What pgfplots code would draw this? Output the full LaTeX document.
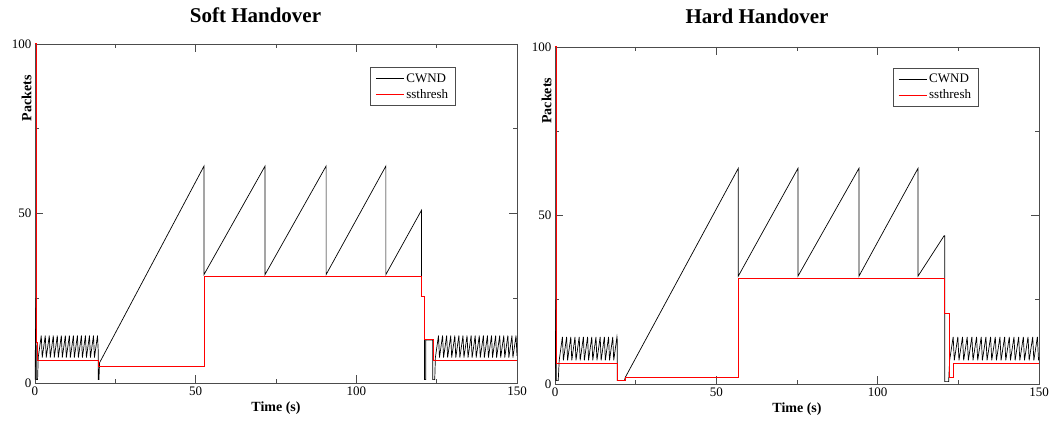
\documentclass[border=0pt]{standalone}
\usepackage{fontspec}
\setmainfont{Liberation Serif}
\usepackage{pgfplots}
\pgfplotsset{compat=1.18}
\pgfplotsset{
  hostyle/.style={
    scale only axis,
    xmin=0, xmax=150, ymin=0, ymax=100,
    xtick={0,50,100,150}, ytick={0,50,100},
    minor xtick={25,75,125}, minor ytick={25,75},
    tick align=inside, xtick pos=both, ytick pos=both,
    major tick length=8pt, minor tick length=4pt,
    axis line style={black!70, line width=0.7pt},
    every tick/.style={black!70, line width=0.7pt},
    tick label style={font=\fontsize{13}{13}\selectfont},
    /pgf/number format/assume math mode=true,
    xlabel={\textbf{Time (s)}},
    ylabel={\textbf{Packets}},
    label style={font=\fontsize{14}{14}\selectfont},
    ylabel style={at={(0,0.87)}, anchor=south, xshift=-10pt},
    legend style={draw=black!70, line width=0.7pt, font=\fontsize{13}{13.5}\selectfont,
      inner xsep=5pt, inner ysep=4pt, row sep=1.5pt, cells={anchor=west}},
    legend image code/.code={\draw[#1] (0pt,0pt) -- (28pt,0pt);},
  },
  cw/.style={black, line width=0.7pt},
  ss/.style={red, line width=1pt},
}
\begin{document}
\begin{tikzpicture}
\path[use as bounding box] (0,0) rectangle (1053pt,423pt);
\node[font=\fontsize{21}{24}\selectfont\bfseries] at (255.5pt,408pt) {Soft Handover};
\node[font=\fontsize{21}{24}\selectfont\bfseries] at (757pt,407pt) {Hard Handover};
% ---------------- Soft handover ----------------
\begin{axis}[hostyle, at={(35pt,40pt)}, anchor=south west, width=482pt, height=339pt,
  legend style={at={(0.695,0.932)}, anchor=north west}]
\addplot[cw] coordinates {
(0,1) (0.3,25) (0.4,1) (0.8,1)
(1.00,7.5) (1.95,14) (2.25,7.5) (3.20,14) (3.50,7.5) (4.45,14) (4.75,7.5) (5.70,14)
(6.00,7.5) (6.95,14) (7.25,7.5) (8.20,14) (8.50,7.5) (9.45,14) (9.75,7.5) (10.70,14)
(11.00,7.5) (11.95,14) (12.25,7.5) (13.20,14) (13.50,7.5) (14.45,14) (14.75,7.5) (15.70,14)
(16.00,7.5) (16.95,14) (17.25,7.5) (18.20,14) (18.50,7.5) (19.45,14)
(19.7,9) (19.7,1) (19.9,1) (20.1,6) (52.6,64) (52.6,32) (71.6,64) (71.6,32)
(90.6,64) (90.6,32) (109.2,64) (109.2,32) (120.3,51) (120.3,25.5) (121.2,25.5)
(121.2,1) (121.6,1) (121.6,12.7) (123.8,12.7) (123.8,1) (124.4,1)
(124.6,7.5) (125.57,14) (125.87,7.5) (126.84,14) (127.14,7.5) (128.11,14) (128.41,7.5) (129.38,14)
(129.68,7.5) (130.65,14) (130.95,7.5) (131.92,14) (132.22,7.5) (133.19,14) (133.49,7.5) (134.46,14)
(134.76,7.5) (135.73,14) (136.03,7.5) (137.00,14) (137.30,7.5) (138.27,14) (138.57,7.5) (139.54,14)
(139.84,7.5) (140.81,14) (141.11,7.5) (142.08,14) (142.38,7.5) (143.35,14) (143.65,7.5) (144.62,14)
(144.92,7.5) (145.89,14) (146.19,7.5) (147.16,14) (147.46,7.5) (148.43,14) (148.73,7.5) (149.70,14)
(150,8)
};
\addlegendentry{CWND}
\addplot[ss] coordinates {
(0,100) (0.4,100) (0.4,12) (0.8,12) (0.8,6.5) (19.7,6.5) (19.7,5) (52.6,5)
(52.6,31.5) (120.3,31.5) (120.3,25.5) (121.2,25.5) (121.2,12.7) (124.0,12.7)
(124.0,6.5) (150,6.5)
};
\addlegendentry{ssthresh}
\end{axis}
% ---------------- Hard handover ----------------
\begin{axis}[hostyle, at={(555pt,39pt)}, anchor=south west, width=484pt, height=337pt,
  legend style={at={(0.698,0.938)}, anchor=north west}]
\addplot[cw] coordinates {
(0,1) (0.3,25) (0.4,1) (1.0,1)
(1.3,7) (2.3,14) (2.6,7) (3.6,14) (3.9,7) (4.9,14) (5.2,7) (6.2,14)
(6.5,7) (7.5,14) (7.8,7) (8.8,14) (9.1,7) (10.1,14) (10.4,7) (11.4,14)
(11.7,7) (12.7,14) (13.0,7) (14.0,14) (14.3,7) (15.3,14) (15.6,7) (16.6,14)
(16.9,7) (17.9,14) (18.2,7) (19.2,14)
(19.3,13) (19.3,1) (21.5,1) (21.8,2) (56.8,64) (56.8,32) (75.3,64) (75.3,32)
(94.2,64) (94.2,32) (112.5,64) (112.5,32) (120.6,44) (120.8,44) (120.8,0.7) (122.0,0.7)
(122.3,7) (123.4,14) (123.75,7) (124.85,14) (125.2,7) (126.3,14) (126.65,7) (127.75,14)
(128.1,7) (129.2,14) (129.55,7) (130.65,14) (131.0,7) (132.1,14) (132.45,7) (133.55,14)
(133.9,7) (135.0,14) (135.35,7) (136.45,14) (136.8,7) (137.9,14) (138.25,7) (139.35,14)
(139.7,7) (140.8,14) (141.15,7) (142.25,14) (142.6,7) (143.7,14) (144.05,7) (145.15,14)
(145.5,7) (146.6,14) (146.95,7) (148.05,14) (148.4,7) (149.5,14) (149.85,7) (150,8)
};
\addlegendentry{CWND}
\addplot[ss] coordinates {
(0,100) (0.5,100) (0.5,6.2) (19.5,6.2) (19.5,1) (21.7,1) (21.7,2) (56.8,2)
(56.8,31.2) (120.8,31.2) (120.8,21) (122.2,21) (122.2,1.9) (123.5,1.9)
(123.5,6.1) (150,6.1)
};
\addlegendentry{ssthresh}
\end{axis}
\end{tikzpicture}
\end{document}
